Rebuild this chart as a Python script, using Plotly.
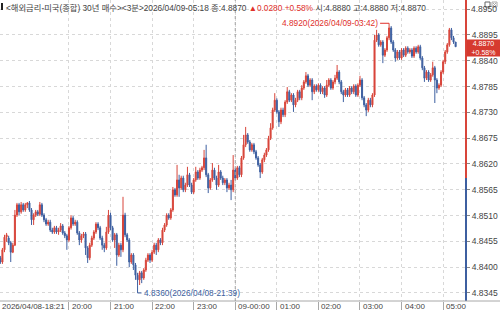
import plotly.graph_objects as go
import pandas as pd
import numpy as np

# ---------------- data ----------------
start_time = "2026-04-08 18:21"
bar_minutes = 3
n_bars = 220

opens = [
    4.8420, 4.8411, 4.8437, 4.8464, 4.8462, 4.8452, 4.8432, 4.8447, 4.8511, 4.8533,
    4.8518, 4.8533, 4.8522, 4.8533, 4.8537, 4.8522, 4.8501, 4.8511, 4.8518, 4.8513,
    4.8533, 4.8511, 4.8501, 4.8492, 4.8496, 4.8479, 4.8475, 4.8484, 4.8475, 4.8479,
    4.8488, 4.8473, 4.8467, 4.8458, 4.8484, 4.8505, 4.8492, 4.8496, 4.8473, 4.8458,
    4.8467, 4.8471, 4.8441, 4.8420, 4.8447, 4.8462, 4.8475, 4.8492, 4.8484, 4.8462,
    4.8447, 4.8441, 4.8475, 4.8511, 4.8484, 4.8458, 4.8469, 4.8426, 4.8447, 4.8437,
    4.8511, 4.8469, 4.8458, 4.8411, 4.8426, 4.8405, 4.8383, 4.8373, 4.8388, 4.8377,
    4.8394, 4.8415, 4.8426, 4.8415, 4.8432, 4.8447, 4.8437, 4.8458, 4.8452, 4.8479,
    4.8490, 4.8511, 4.8505, 4.8522, 4.8565, 4.8554, 4.8586, 4.8569, 4.8590, 4.8565,
    4.8575, 4.8597, 4.8575, 4.8560, 4.8586, 4.8603, 4.8590, 4.8607, 4.8612, 4.8633,
    4.8597, 4.8569, 4.8586, 4.8607, 4.8590, 4.8575, 4.8603, 4.8590, 4.8580, 4.8586,
    4.8569, 4.8575, 4.8565, 4.8607, 4.8590, 4.8612, 4.8597, 4.8633, 4.8661, 4.8682,
    4.8667, 4.8650, 4.8661, 4.8646, 4.8633, 4.8618, 4.8603, 4.8629, 4.8639, 4.8650,
    4.8675, 4.8697, 4.8735, 4.8756, 4.8731, 4.8710, 4.8735, 4.8725, 4.8752, 4.8774,
    4.8756, 4.8767, 4.8746, 4.8756, 4.8774, 4.8761, 4.8782, 4.8795, 4.8808, 4.8788,
    4.8799, 4.8774, 4.8786, 4.8778, 4.8788, 4.8774, 4.8782, 4.8767, 4.8788, 4.8799,
    4.8782, 4.8795, 4.8803, 4.8816, 4.8795, 4.8774, 4.8767, 4.8778, 4.8767, 4.8782,
    4.8774, 4.8786, 4.8767, 4.8788, 4.8799, 4.8761, 4.8746, 4.8735, 4.8756, 4.8746,
    4.8767, 4.8884, 4.8895, 4.8874, 4.8880, 4.8852, 4.8863, 4.8889, 4.8910, 4.8880,
    4.8863, 4.8846, 4.8859, 4.8846, 4.8863, 4.8852, 4.8867, 4.8859, 4.8863, 4.8850,
    4.8867, 4.8859, 4.8870, 4.8846, 4.8825, 4.8803, 4.8816, 4.8799, 4.8810, 4.8825,
    4.8799, 4.8782, 4.8788, 4.8816, 4.8838, 4.8859, 4.8874, 4.8906, 4.8889, 4.8880,
]
highs = [
    4.8424, 4.8441, 4.8469, 4.8473, 4.8467, 4.8456, 4.8452, 4.8522, 4.8537, 4.8537,
    4.8539, 4.8537, 4.8537, 4.8539, 4.8541, 4.8526, 4.8515, 4.8522, 4.8522, 4.8539,
    4.8537, 4.8515, 4.8505, 4.8501, 4.8501, 4.8484, 4.8488, 4.8488, 4.8484, 4.8494,
    4.8492, 4.8477, 4.8471, 4.8488, 4.8511, 4.8509, 4.8501, 4.8500, 4.8477, 4.8471,
    4.8475, 4.8475, 4.8445, 4.8452, 4.8467, 4.8479, 4.8496, 4.8496, 4.8488, 4.8467,
    4.8452, 4.8486, 4.8522, 4.8516, 4.8488, 4.8473, 4.8473, 4.8452, 4.8452, 4.8550,
    4.8516, 4.8473, 4.8462, 4.8430, 4.8430, 4.8409, 4.8388, 4.8392, 4.8392, 4.8398,
    4.8420, 4.8430, 4.8430, 4.8437, 4.8452, 4.8452, 4.8462, 4.8462, 4.8484, 4.8494,
    4.8515, 4.8515, 4.8526, 4.8571, 4.8569, 4.8618, 4.8597, 4.8595, 4.8595, 4.8580,
    4.8614, 4.8601, 4.8580, 4.8590, 4.8614, 4.8607, 4.8612, 4.8616, 4.8650, 4.8661,
    4.8601, 4.8590, 4.8622, 4.8612, 4.8595, 4.8618, 4.8607, 4.8595, 4.8590, 4.8590,
    4.8580, 4.8586, 4.8639, 4.8612, 4.8616, 4.8616, 4.8637, 4.8682, 4.8699, 4.8686,
    4.8671, 4.8665, 4.8665, 4.8650, 4.8637, 4.8622, 4.8633, 4.8644, 4.8654, 4.8680,
    4.8707, 4.8740, 4.8771, 4.8760, 4.8735, 4.8740, 4.8740, 4.8756, 4.8784, 4.8778,
    4.8771, 4.8771, 4.8761, 4.8778, 4.8778, 4.8788, 4.8799, 4.8816, 4.8812, 4.8803,
    4.8803, 4.8790, 4.8790, 4.8792, 4.8792, 4.8786, 4.8786, 4.8799, 4.8803, 4.8803,
    4.8799, 4.8810, 4.8831, 4.8820, 4.8799, 4.8778, 4.8782, 4.8782, 4.8786, 4.8786,
    4.8790, 4.8790, 4.8792, 4.8808, 4.8803, 4.8765, 4.8750, 4.8761, 4.8761, 4.8771,
    4.8895, 4.8906, 4.8899, 4.8884, 4.8884, 4.8867, 4.8893, 4.8920, 4.8914, 4.8884,
    4.8867, 4.8863, 4.8863, 4.8867, 4.8867, 4.8871, 4.8871, 4.8867, 4.8867, 4.8871,
    4.8871, 4.8874, 4.8874, 4.8850, 4.8829, 4.8820, 4.8820, 4.8814, 4.8838, 4.8829,
    4.8803, 4.8792, 4.8820, 4.8842, 4.8863, 4.8878, 4.8910, 4.8910, 4.8893, 4.8880,
]
lows = [
    4.8407, 4.8407, 4.8432, 4.8454, 4.8447, 4.8411, 4.8430, 4.8445, 4.8507, 4.8511,
    4.8514, 4.8518, 4.8518, 4.8526, 4.8518, 4.8490, 4.8490, 4.8507, 4.8509, 4.8509,
    4.8507, 4.8496, 4.8488, 4.8488, 4.8475, 4.8471, 4.8471, 4.8471, 4.8469, 4.8475,
    4.8469, 4.8462, 4.8437, 4.8454, 4.8480, 4.8488, 4.8488, 4.8469, 4.8447, 4.8452,
    4.8462, 4.8426, 4.8409, 4.8415, 4.8443, 4.8458, 4.8471, 4.8479, 4.8458, 4.8437,
    4.8432, 4.8437, 4.8471, 4.8479, 4.8454, 4.8441, 4.8403, 4.8422, 4.8422, 4.8432,
    4.8464, 4.8454, 4.8400, 4.8407, 4.8394, 4.8373, 4.8360, 4.8362, 4.8366, 4.8373,
    4.8390, 4.8411, 4.8409, 4.8411, 4.8428, 4.8426, 4.8432, 4.8447, 4.8447, 4.8475,
    4.8486, 4.8501, 4.8501, 4.8518, 4.8550, 4.8550, 4.8550, 4.8565, 4.8560, 4.8560,
    4.8571, 4.8571, 4.8556, 4.8556, 4.8582, 4.8586, 4.8586, 4.8603, 4.8607, 4.8592,
    4.8558, 4.8565, 4.8582, 4.8586, 4.8565, 4.8571, 4.8586, 4.8575, 4.8575, 4.8560,
    4.8565, 4.8543, 4.8560, 4.8586, 4.8586, 4.8592, 4.8592, 4.8629, 4.8656, 4.8663,
    4.8646, 4.8646, 4.8641, 4.8629, 4.8614, 4.8590, 4.8599, 4.8624, 4.8635, 4.8646,
    4.8671, 4.8693, 4.8731, 4.8727, 4.8699, 4.8705, 4.8720, 4.8720, 4.8748, 4.8752,
    4.8752, 4.8731, 4.8741, 4.8752, 4.8756, 4.8756, 4.8778, 4.8791, 4.8784, 4.8784,
    4.8756, 4.8769, 4.8774, 4.8774, 4.8769, 4.8769, 4.8761, 4.8763, 4.8784, 4.8778,
    4.8778, 4.8790, 4.8799, 4.8790, 4.8769, 4.8752, 4.8763, 4.8763, 4.8763, 4.8769,
    4.8769, 4.8763, 4.8763, 4.8784, 4.8756, 4.8741, 4.8722, 4.8731, 4.8741, 4.8741,
    4.8763, 4.8880, 4.8870, 4.8870, 4.8835, 4.8848, 4.8859, 4.8884, 4.8876, 4.8859,
    4.8838, 4.8842, 4.8842, 4.8842, 4.8848, 4.8848, 4.8855, 4.8855, 4.8846, 4.8846,
    4.8855, 4.8855, 4.8842, 4.8820, 4.8795, 4.8799, 4.8795, 4.8795, 4.8806, 4.8750,
    4.8771, 4.8778, 4.8784, 4.8812, 4.8833, 4.8855, 4.8870, 4.8884, 4.8876, 4.8870,
]
closes = [
    4.8411, 4.8437, 4.8464, 4.8469, 4.8452, 4.8432, 4.8447, 4.8511, 4.8533, 4.8518,
    4.8533, 4.8522, 4.8533, 4.8537, 4.8522, 4.8501, 4.8511, 4.8518, 4.8513, 4.8533,
    4.8511, 4.8501, 4.8492, 4.8496, 4.8479, 4.8475, 4.8484, 4.8475, 4.8479, 4.8488,
    4.8473, 4.8467, 4.8458, 4.8484, 4.8505, 4.8492, 4.8496, 4.8473, 4.8458, 4.8467,
    4.8471, 4.8441, 4.8420, 4.8447, 4.8462, 4.8475, 4.8492, 4.8484, 4.8462, 4.8447,
    4.8441, 4.8475, 4.8511, 4.8484, 4.8458, 4.8469, 4.8426, 4.8447, 4.8437, 4.8511,
    4.8469, 4.8458, 4.8411, 4.8426, 4.8405, 4.8383, 4.8373, 4.8388, 4.8377, 4.8394,
    4.8415, 4.8426, 4.8415, 4.8432, 4.8447, 4.8437, 4.8458, 4.8452, 4.8479, 4.8490,
    4.8511, 4.8505, 4.8522, 4.8565, 4.8554, 4.8586, 4.8569, 4.8590, 4.8565, 4.8575,
    4.8597, 4.8575, 4.8560, 4.8586, 4.8603, 4.8590, 4.8607, 4.8612, 4.8633, 4.8597,
    4.8569, 4.8586, 4.8607, 4.8590, 4.8575, 4.8603, 4.8590, 4.8580, 4.8586, 4.8569,
    4.8575, 4.8565, 4.8607, 4.8590, 4.8612, 4.8597, 4.8633, 4.8661, 4.8682, 4.8667,
    4.8650, 4.8661, 4.8646, 4.8633, 4.8618, 4.8603, 4.8629, 4.8639, 4.8650, 4.8675,
    4.8697, 4.8735, 4.8756, 4.8731, 4.8710, 4.8735, 4.8725, 4.8752, 4.8774, 4.8756,
    4.8767, 4.8746, 4.8756, 4.8774, 4.8761, 4.8782, 4.8795, 4.8808, 4.8788, 4.8799,
    4.8774, 4.8786, 4.8778, 4.8788, 4.8774, 4.8782, 4.8767, 4.8788, 4.8799, 4.8782,
    4.8795, 4.8803, 4.8816, 4.8795, 4.8774, 4.8767, 4.8778, 4.8767, 4.8782, 4.8774,
    4.8786, 4.8767, 4.8788, 4.8799, 4.8761, 4.8746, 4.8735, 4.8756, 4.8746, 4.8767,
    4.8884, 4.8895, 4.8874, 4.8880, 4.8852, 4.8863, 4.8889, 4.8910, 4.8880, 4.8863,
    4.8846, 4.8859, 4.8846, 4.8863, 4.8852, 4.8867, 4.8859, 4.8863, 4.8850, 4.8867,
    4.8859, 4.8870, 4.8846, 4.8825, 4.8803, 4.8816, 4.8799, 4.8810, 4.8825, 4.8799,
    4.8782, 4.8788, 4.8816, 4.8838, 4.8859, 4.8874, 4.8906, 4.8889, 4.8880, 4.8870,
]

prev_close = 4.8590
y_ticks = [4.8345, 4.8400, 4.8455, 4.8510, 4.8565, 4.8620, 4.8675,
           4.8730, 4.8785, 4.8840, 4.8895, 4.8950]
hour_ticks = ["2026-04-08 20:00", "2026-04-08 21:00", "2026-04-08 22:00",
              "2026-04-08 23:00", "2026-04-09 00:00", "2026-04-09 01:00",
              "2026-04-09 02:00", "2026-04-09 03:00", "2026-04-09 04:00",
              "2026-04-09 05:00"]
hour_labels = ["20:00", "21:00", "22:00", "23:00", "09-00:00", "01:00",
               "02:00", "03:00", "04:00", "05:00"]
title_name = "<해외금리-미국(종합) 30년 매수><3분>"

# ---------------- figure ----------------
RED = "#d8453a"
BLUE = "#3d5fa0"
TXT = "#444444"
FONT = "Liberation Sans, Noto Sans CJK KR, sans-serif"

times = pd.date_range(start_time, periods=n_bars, freq=f"{bar_minutes}min")
x_range = [pd.Timestamp("2026-04-08 18:20:30"), pd.Timestamp("2026-04-09 05:33:00")]
y_range = [4.83279, 4.89696]

W, H = 500, 314
ML, MR, MT, MB = 0, 34, 0, 13
PW, PH = W - ML - MR, H - MT - MB


def px_x(px):
    return px / PW


def px_y(py):
    return (PH - py) / PH


fig = go.Figure()
fig.add_trace(go.Candlestick(
    x=times, open=opens, high=highs, low=lows, close=closes,
    increasing=dict(line=dict(color=RED, width=1), fillcolor=RED),
    decreasing=dict(line=dict(color=BLUE, width=1), fillcolor=BLUE),
    whiskerwidth=0, hoverinfo="skip", showlegend=False,
))

shapes = []
annotations = []

# right axis line: red above previous close, blue below
shapes.append(dict(type="line", xref="paper", yref="y", x0=1.0, x1=1.0,
                   y0=prev_close, y1=y_range[1], line=dict(color=RED, width=2)))
shapes.append(dict(type="line", xref="paper", yref="y", x0=1.0, x1=1.0,
                   y0=y_range[0], y1=prev_close, line=dict(color=BLUE, width=2)))
# bottom axis line extending under price labels
shapes.append(dict(type="line", xref="paper", yref="paper", x0=0, x1=W / PW,
                   y0=0, y1=0, line=dict(color="#a8a8a8", width=1)))
# day boundary line
shapes.append(dict(type="line", xref="x", yref="paper", x0=hour_ticks[4], x1=hour_ticks[4],
                   y0=0, y1=1, line=dict(color="#a0a0a0", width=1, dash="dot")))
# small marker at header start
shapes.append(dict(type="rect", xref="paper", yref="paper", x0=px_x(1), x1=px_x(3),
                   y0=px_y(10), y1=px_y(3), line=dict(width=0), fillcolor="#222222"))

# top-most price label (drawn as text so it is not dropped at the edge)
top_tick = y_ticks[-1]
annotations.append(dict(xref="paper", yref="y", x=1.0, y=top_tick, xanchor="left",
                        yanchor="middle", xshift=3, text=f"{top_tick:.4f}", showarrow=False,
                        font=dict(family=FONT, size=8.5, color=TXT)))
# window icons at top right (outline only)
shapes.append(dict(type="rect", xref="paper", yref="paper", x0=px_x(485), x1=px_x(490),
                   y0=px_y(7), y1=px_y(2), line=dict(color="#666666", width=1)))
shapes.append(dict(type="rect", xref="paper", yref="paper", x0=px_x(492), x1=px_x(497),
                   y0=px_y(7), y1=px_y(2), line=dict(color="#aaaaaa", width=1)))
shapes.append(dict(type="path", xref="paper", yref="paper",
                   path=f"M{px_x(493)},{px_y(6)} L{px_x(496)},{px_y(3)} "
                        f"M{px_x(493)},{px_y(3)} L{px_x(496)},{px_y(6)}",
                   line=dict(color="#aaaaaa", width=1)))

# header text
last_t = times[-1]
last_c = closes[-1]
chg = last_c - prev_close
pct = chg / prev_close * 100
header = (f"{title_name}{last_t:%Y/%m/%d-%H:%M} 종:{last_c:.4f} "
          f"<span style='color:#e0302a'>▲{chg:.4f} +{pct:.2f}%</span> "
          f"시:{opens[-1]:.4f} 고:{highs[-1]:.4f} 저:{lows[-1]:.4f}")
annotations.append(dict(xref="paper", yref="paper", x=px_x(4), y=1, xanchor="left",
                        yanchor="top", yshift=-1, text=header, showarrow=False,
                        font=dict(family=FONT, size=8.3, color=TXT)))

# x axis labels (left aligned after the tick)
annotations.append(dict(xref="paper", yref="paper", x=0, y=px_y(306), xanchor="left",
                        yanchor="middle", text=f"{times[0]:%Y/%m/%d-%H:%M}", showarrow=False,
                        font=dict(family=FONT, size=8, color=TXT)))
for t, lab in zip(hour_ticks, hour_labels):
    annotations.append(dict(xref="x", yref="paper", x=t, y=px_y(306), xanchor="left",
                            yanchor="middle", xshift=1, text=lab, showarrow=False,
                            font=dict(family=FONT, size=8, color=TXT)))

# max / min markers
imax = int(np.argmax(highs))
imin = int(np.argmin(lows))
annotations.append(dict(xref="x", yref="y", x=times[imax], y=highs[imax],
                        text=f"{highs[imax]:.4f}({times[imax]:%Y/%m/%d-%H:%M})",
                        showarrow=True, arrowhead=0, arrowwidth=1, arrowcolor="#e0302a",
                        ax=-9, ay=0, xanchor="right", yanchor="middle",
                        font=dict(family=FONT, size=8.3, color="#e0302a")))
shapes.append(dict(type="path", xref="x", yref="y", xsizemode="pixel", ysizemode="pixel",
                   xanchor=times[imin], yanchor=lows[imin], path="M0,0 L0,-7 L4,-7",
                   line=dict(color=BLUE, width=1)))
annotations.append(dict(xref="x", yref="y", x=times[imin], y=lows[imin], xanchor="left",
                        yanchor="middle", xshift=4, yshift=-7,
                        text=f"{lows[imin]:.4f}({times[imin]:%Y/%m/%d-%H:%M})",
                        showarrow=False, font=dict(family=FONT, size=8.3, color=BLUE)))

# current price box
annotations.append(dict(xref="paper", yref="y", x=1.0, y=last_c, xanchor="left",
                        yanchor="middle", yshift=-1, text=f"{last_c:.4f}<br>+{pct:.2f}%",
                        showarrow=False, bgcolor="#d63a2f", borderpad=0, width=33,
                        align="center", font=dict(family=FONT, size=7, color="white")))

fig.update_layout(
    width=W, height=H, autosize=False,
    margin=dict(l=ML, r=MR, t=MT, b=MB, pad=0),
    paper_bgcolor="white", plot_bgcolor="white",
    showlegend=False, hovermode=False,
    shapes=shapes, annotations=annotations,
    xaxis=dict(type="date", range=x_range, rangeslider=dict(visible=False),
               tickvals=hour_ticks, showticklabels=False, ticks="outside", ticklen=8,
               tickcolor="#a8a8a8", showgrid=True, gridcolor="#d8d8d8", griddash="dot",
               gridwidth=1, showline=False, zeroline=False, fixedrange=True),
    yaxis=dict(side="right", range=y_range, tickvals=y_ticks,
               ticktext=[f"{v:.4f}" for v in y_ticks[:-1]] + [""], ticks="outside", ticklen=3,
               tickcolor="#888888", showgrid=True, gridcolor="#d8d8d8", griddash="dot",
               gridwidth=1, showline=False, zeroline=False, automargin=False,
               tickfont=dict(family=FONT, size=8.5, color=TXT), fixedrange=True),
)

fig.write_html("out.html")
